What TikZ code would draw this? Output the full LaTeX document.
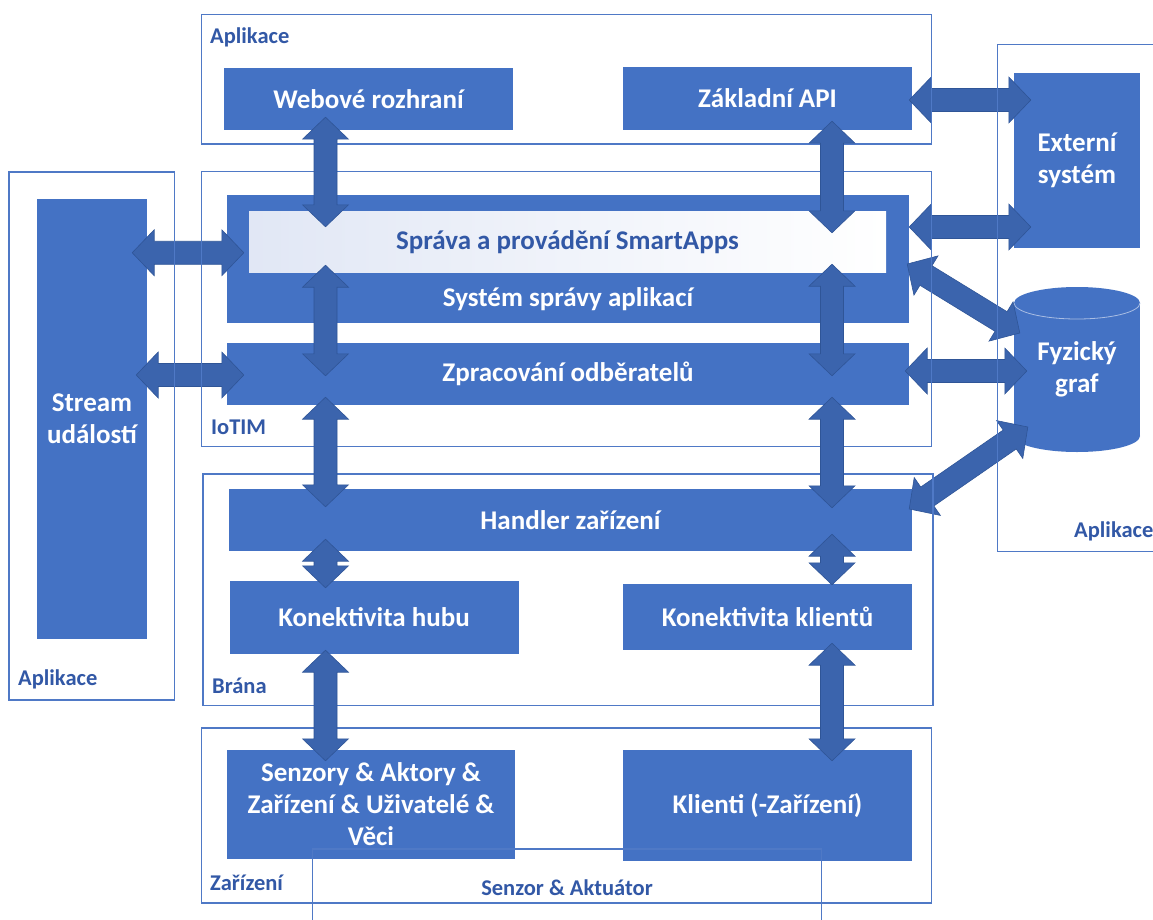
\documentclass[tikz,border=0pt]{standalone}
\usepackage{fontspec}
\setmainfont{Carlito}
\usetikzlibrary{calc}

\definecolor{boxblue}{HTML}{4472C4}
\definecolor{arrowblue}{HTML}{3B64AD}
\definecolor{arrowedge}{HTML}{2F5597}
\definecolor{framecol}{HTML}{4F79C6}
\definecolor{labelcol}{HTML}{3258A6}
\definecolor{paleblue}{HTML}{E1E7F5}
\definecolor{rimcol}{HTML}{A9BDE3}

\newcommand{\bxfont}{\fontsize{27}{32}\selectfont\bfseries}
\newcommand{\lblfont}{\fontsize{22.5}{26}\selectfont\bfseries}

% Two-headed block arrow between two points
\newcommand{\biarrow}[2]{%
  \path (#1) coordinate (ba-s) (#2) coordinate (ba-e);
  \path ($(ba-s)!22pt!(ba-e)$) coordinate (ba-h1)
        ($(ba-e)!22pt!(ba-s)$) coordinate (ba-h2);
  \filldraw[blockarrow] (ba-s)
    -- ($(ba-h1)!23pt!90:(ba-e)$) -- ($(ba-h1)!11.5pt!90:(ba-e)$)
    -- ($(ba-h2)!11.5pt!-90:(ba-s)$) -- ($(ba-h2)!23pt!-90:(ba-s)$)
    -- (ba-e)
    -- ($(ba-h2)!23pt!90:(ba-s)$) -- ($(ba-h2)!11.5pt!90:(ba-s)$)
    -- ($(ba-h1)!11.5pt!-90:(ba-e)$) -- ($(ba-h1)!23pt!-90:(ba-e)$)
    -- cycle;}

\tikzset{
  box/.style={fill=boxblue, text=white, font=\bxfont, align=center, inner sep=0pt},
  smartbox/.style={left color=paleblue, right color=white, text=labelcol,
    font=\bxfont, align=center, inner sep=0pt},
  frame/.style={draw=framecol, line width=1.3pt},
  framelabel/.style={text=labelcol, font=\lblfont, inner sep=0pt},
  blockarrow/.style={fill=arrowblue, draw=arrowedge, line width=0.6pt, line join=miter},
}

\begin{document}
\begin{tikzpicture}[x=1pt, y=-1pt]
\useasboundingbox (0,0) rectangle (1153,920);
\fill[white] (0,0) rectangle (1153,920);
\clip (0,0) rectangle (1153,920);

\coordinate (colL) at (325.5,0);
\coordinate (colR) at (832,0);

% ---- component boxes
\node[box, minimum width=289pt, minimum height=62pt] (web) at (368.5,99) {Webové rozhraní};
\node[box, minimum width=289pt, minimum height=63pt] (api) at (767.5,98.5) {Základní API};
\node[box, minimum width=126pt, minimum height=175pt] (ext) at (1077,160.5) {Externí\\systém};
\node[box, minimum width=110pt, minimum height=440pt] (stream) at (92,419) {Stream\\událostí};
\node[box, minimum width=682pt, minimum height=128pt] (sys) at (568,259) {};
\node[smartbox, minimum width=637pt, minimum height=61.5pt] (smart) at (567.5,241.75) {Správa a provádění SmartApps};
\node[box, fill=none] (systxt) at (568,299) {Systém správy aplikací};
\node[box, minimum width=682pt, minimum height=62pt] (zprac) at (568,374) {Zpracování odběratelů};
\node[box, minimum width=683pt, minimum height=62pt] (handler) at (570.5,520) {Handler zařízení};
\node[box, minimum width=289pt, minimum height=73pt] (hub) at (374,617.5) {Konektivita hubu};
\node[box, minimum width=289pt, minimum height=66pt] (kli) at (767.5,617) {Konektivita klientů};
\node[box, minimum width=288.5pt, minimum height=109pt] (senz) at (371,804.5) {Senzory \& Aktory \&\\Zařízení \& Uživatelé \&\\Věci};
\node[box, minimum width=289pt, minimum height=111pt] (klienti) at (767.5,805.5) {Klienti (-Zařízení)};

% ---- database cylinder
\fill[boxblue] (1014,303) rectangle (1140,436);
\fill[boxblue] (1077,436) ellipse [x radius=63, y radius=16];
\fill[boxblue] (1077,303) ellipse [x radius=63, y radius=16];
\draw[rimcol, line width=0.8pt] (1014,303) arc [start angle=180, end angle=0, x radius=63, y radius=16];
\node[text=white, font=\bxfont, align=center, inner sep=0pt,
      minimum width=126pt, minimum height=165pt] (graf) at (1077,369.5) {Fyzický\\graf};

% ---- side links (beneath the layer frames)
\biarrow{$(stream.east |- smart.center)+(-15,11)$}{$(smart.west)+(-5,11)$}
\biarrow{$(stream.east |- zprac.center)+(-11,1)$}{$(zprac.west)+(17,1)$}
\biarrow{$(api.east)+(-3,1.5)$}{$(ext.west |- api.east)+(17,1.5)$}
\biarrow{$(sys.east)+(0,-32)$}{$(ext.west |- sys.east)+(17,-32)$}
\biarrow{$(zprac.east)+(-4,-3)$}{$(graf.west)+(13,1.5)$}
\biarrow{$(sys.east)+(-2,5)$}{$(graf.west)+(6,-36.5)$}
\biarrow{$(handler.east)+(-3,-11)$}{$(graf.west)+(14,57.5)$}

% ---- layer frames
\draw[frame] (201.5,14.5) rectangle (931.5,144);
\draw[frame] (9,172) rectangle (174.5,700);
\draw[frame] (201.5,171.5) rectangle (931.5,446.5);
\draw[frame] (203,474) rectangle (933,705.5);
\draw[frame] (201.5,728) rectangle (931.5,903);
\draw[frame] (997.5,44.5) rectangle (1175,551.5);
\draw[frame] (312.5,849) rectangle (821.5,940);

\node[framelabel, anchor=west] (lbl-top) at (210,37) {Aplikace};
\node[framelabel, anchor=west] (lbl-left) at (18,679) {Aplikace};
\node[framelabel, anchor=west] (lbl-iotim) at (211,427) {IoTIM};
\node[framelabel, anchor=west] (lbl-brana) at (212,686) {Brána};
\node[framelabel, anchor=west] (lbl-zariz) at (210,883) {Zařízení};
\node[framelabel, anchor=west] (lbl-right) at (1074,531) {Aplikace};
\node[framelabel] (lbl-senzor) at (567,888) {Senzor \& Aktuátor};

% ---- vertical links (above the frames)
\biarrow{$(web.south -| colL)+(0,-13)$}{$(smart.north -| colL)+(0,16)$}
\biarrow{$(smart.south -| colL)+(0,-7.5)$}{$(zprac.north -| colL)+(0,33)$}
\biarrow{$(zprac.south -| colL)+(0,-8)$}{$(handler.north -| colL)+(0,18)$}
\biarrow{$(handler.south -| colL)+(0,-12)$}{$(hub.north -| colL)+(0,7)$}
\biarrow{$(hub.south -| colL)+(0,-4)$}{$(senz.north -| colL)+(0,11)$}

\biarrow{$(api.south -| colR)+(0,-9)$}{$(smart.north -| colR)+(0,22)$}
\biarrow{$(smart.south -| colR)+(0,-8.5)$}{$(zprac.north -| colR)+(0,33)$}
\biarrow{$(zprac.south -| colR)+(0,-8)$}{$(handler.north -| colR)+(0,19)$}
\biarrow{$(handler.south -| colR)+(0,-17)$}{$(kli.north -| colR)+(0,1)$}
\biarrow{$(kli.south -| colR)+(0,-7)$}{$(klienti.north -| colR)+(0,11)$}
\end{tikzpicture}
\end{document}
